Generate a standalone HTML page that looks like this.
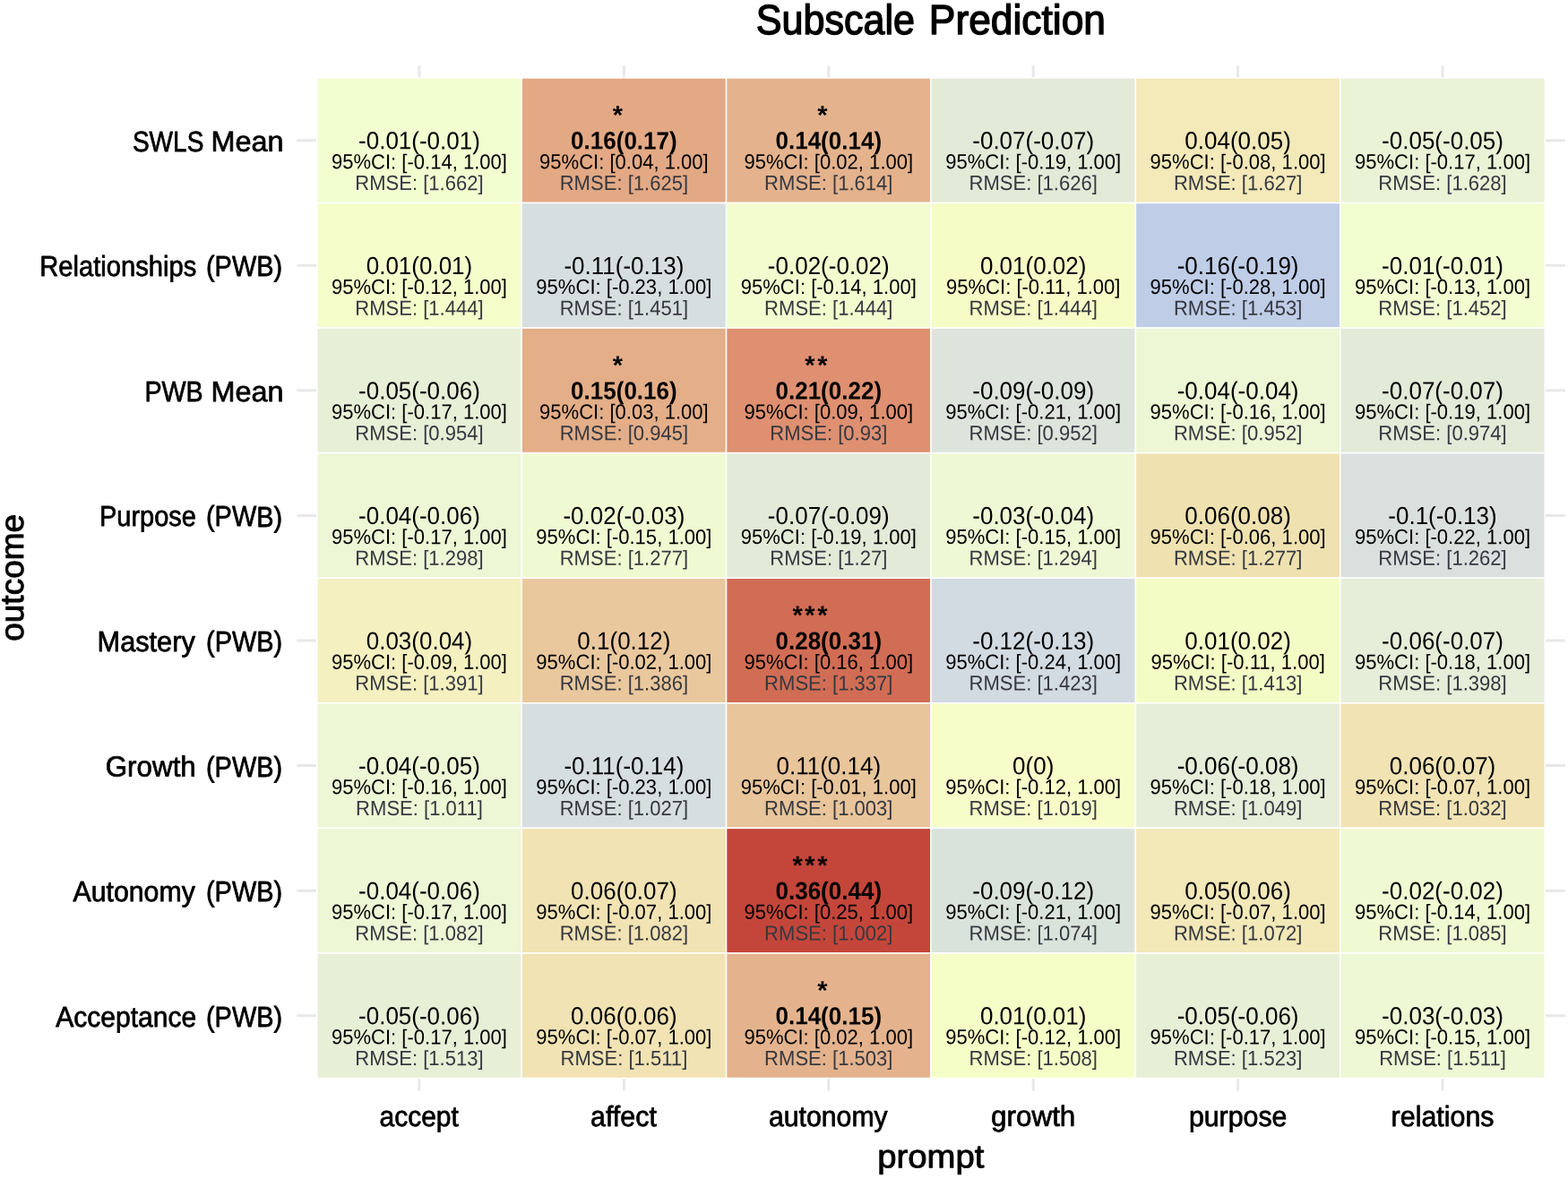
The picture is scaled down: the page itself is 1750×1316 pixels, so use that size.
<!DOCTYPE html>
<html lang="en"><head><meta charset="utf-8"><title>Subscale Prediction</title>
<style>
html,body{margin:0;padding:0;background:#fff;}
body{width:1750px;height:1316px;overflow:hidden;}
svg{display:block;}
text{font-family:"Liberation Sans",Arial,Helvetica,sans-serif;fill:#000;text-rendering:geometricPrecision;}
.m{font-size:26px;text-anchor:middle;}
.b{font-weight:bold;}
.c{font-size:22.05px;text-anchor:middle;}
.r{font-size:22.05px;text-anchor:middle;fill:#363840;}
.s{font-size:29px;text-anchor:end;font-weight:bold;letter-spacing:2.6px;}
.yl{font-size:32px;}
.xl{font-size:32px;}
.at{font-size:36.5px;}
.tt{font-size:46.5px;}
.yl,.xl,.at,.tt{stroke:#000;stroke-width:0.75px;stroke-linejoin:round;}
.at{stroke-width:0.9px;}
.tt{stroke-width:1.4px;}
</style></head><body>
<svg width="1750" height="1316" viewBox="0 0 1750 1316" role="img" aria-label="Subscale Prediction heatmap">
<rect x="0" y="0" width="1750" height="1316" fill="#ffffff"/>
<g stroke="#e8e8e8" stroke-width="3" fill="none">
<line x1="467.96" y1="73.20" x2="467.96" y2="1217.60"/>
<line x1="696.38" y1="73.20" x2="696.38" y2="1217.60"/>
<line x1="924.78" y1="73.20" x2="924.78" y2="1217.60"/>
<line x1="1153.19" y1="73.20" x2="1153.19" y2="1217.60"/>
<line x1="1381.61" y1="73.20" x2="1381.61" y2="1217.60"/>
<line x1="1610.01" y1="73.20" x2="1610.01" y2="1217.60"/>
<line x1="331.30" y1="156.72" x2="1747.00" y2="156.72"/>
<line x1="331.30" y1="296.28" x2="1747.00" y2="296.28"/>
<line x1="331.30" y1="435.85" x2="1747.00" y2="435.85"/>
<line x1="331.30" y1="575.42" x2="1747.00" y2="575.42"/>
<line x1="331.30" y1="714.99" x2="1747.00" y2="714.99"/>
<line x1="331.30" y1="854.57" x2="1747.00" y2="854.57"/>
<line x1="331.30" y1="994.13" x2="1747.00" y2="994.13"/>
<line x1="331.30" y1="1133.70" x2="1747.00" y2="1133.70"/>
</g>
<g stroke="#ffffff" stroke-width="1.5">
<rect x="353.76" y="86.93" width="228.41" height="139.57" fill="#f2fdd0"/>
<rect x="582.17" y="86.93" width="228.41" height="139.57" fill="#e2a984"/>
<rect x="810.58" y="86.93" width="228.41" height="139.57" fill="#e4b38d"/>
<rect x="1038.99" y="86.93" width="228.41" height="139.57" fill="#e3ead8"/>
<rect x="1267.40" y="86.93" width="228.41" height="139.57" fill="#f3e9b9"/>
<rect x="1495.81" y="86.93" width="228.41" height="139.57" fill="#eaf3d6"/>
<rect x="353.76" y="226.50" width="228.41" height="139.57" fill="#f5fdcb"/>
<rect x="582.17" y="226.50" width="228.41" height="139.57" fill="#d7dee0"/>
<rect x="810.58" y="226.50" width="228.41" height="139.57" fill="#f2fccf"/>
<rect x="1038.99" y="226.50" width="228.41" height="139.57" fill="#f5fcc5"/>
<rect x="1267.40" y="226.50" width="228.41" height="139.57" fill="#bfcde7"/>
<rect x="1495.81" y="226.50" width="228.41" height="139.57" fill="#f2fdd0"/>
<rect x="353.76" y="366.07" width="228.41" height="139.57" fill="#e8efd7"/>
<rect x="582.17" y="366.07" width="228.41" height="139.57" fill="#e3ae88"/>
<rect x="810.58" y="366.07" width="228.41" height="139.57" fill="#de9071"/>
<rect x="1038.99" y="366.07" width="228.41" height="139.57" fill="#dde4dc"/>
<rect x="1267.40" y="366.07" width="228.41" height="139.57" fill="#edf6d5"/>
<rect x="1495.81" y="366.07" width="228.41" height="139.57" fill="#e3ead8"/>
<rect x="353.76" y="505.64" width="228.41" height="139.57" fill="#edf6d5"/>
<rect x="582.17" y="505.64" width="228.41" height="139.57" fill="#f0fad2"/>
<rect x="810.58" y="505.64" width="228.41" height="139.57" fill="#e3ead8"/>
<rect x="1038.99" y="505.64" width="228.41" height="139.57" fill="#eef8d4"/>
<rect x="1267.40" y="505.64" width="228.41" height="139.57" fill="#efe2b0"/>
<rect x="1495.81" y="505.64" width="228.41" height="139.57" fill="#dae0de"/>
<rect x="353.76" y="645.21" width="228.41" height="139.57" fill="#f4f0c0"/>
<rect x="582.17" y="645.21" width="228.41" height="139.57" fill="#eac89e"/>
<rect x="810.58" y="645.21" width="228.41" height="139.57" fill="#d16d55"/>
<rect x="1038.99" y="645.21" width="228.41" height="139.57" fill="#d3dbe2"/>
<rect x="1267.40" y="645.21" width="228.41" height="139.57" fill="#f4fcc5"/>
<rect x="1495.81" y="645.21" width="228.41" height="139.57" fill="#e6edd8"/>
<rect x="353.76" y="784.78" width="228.41" height="139.57" fill="#edf6d5"/>
<rect x="582.17" y="784.78" width="228.41" height="139.57" fill="#d7dee0"/>
<rect x="810.58" y="784.78" width="228.41" height="139.57" fill="#e8c59b"/>
<rect x="1038.99" y="784.78" width="228.41" height="139.57" fill="#f6fdc9"/>
<rect x="1267.40" y="784.78" width="228.41" height="139.57" fill="#e6edd8"/>
<rect x="1495.81" y="784.78" width="228.41" height="139.57" fill="#f1e3b3"/>
<rect x="353.76" y="924.35" width="228.41" height="139.57" fill="#edf6d5"/>
<rect x="582.17" y="924.35" width="228.41" height="139.57" fill="#f1e3b3"/>
<rect x="810.58" y="924.35" width="228.41" height="139.57" fill="#c4463a"/>
<rect x="1038.99" y="924.35" width="228.41" height="139.57" fill="#dae3db"/>
<rect x="1267.40" y="924.35" width="228.41" height="139.57" fill="#f2e8b8"/>
<rect x="1495.81" y="924.35" width="228.41" height="139.57" fill="#f0fad2"/>
<rect x="353.76" y="1063.92" width="228.41" height="139.57" fill="#e8efd7"/>
<rect x="582.17" y="1063.92" width="228.41" height="139.57" fill="#f1e3b3"/>
<rect x="810.58" y="1063.92" width="228.41" height="139.57" fill="#e4b38d"/>
<rect x="1038.99" y="1063.92" width="228.41" height="139.57" fill="#f5fec7"/>
<rect x="1267.40" y="1063.92" width="228.41" height="139.57" fill="#e8efd7"/>
<rect x="1495.81" y="1063.92" width="228.41" height="139.57" fill="#eef8d4"/>
</g>
<g>
<text class="m" transform="matrix(1 0.0005 0 1.06 467.96 166.38)">-0.01(-0.01)</text>
<text class="c" transform="matrix(1 0.0005 0 1.055 467.96 188.41)">95%CI: [-0.14, 1.00]</text>
<text class="r" transform="matrix(1 0.0005 0 1.055 467.96 212.12)">RMSE: [1.662]</text>
<text class="s" transform="matrix(1 0.0005 0 1 697.67 138.31)">*</text>
<text class="m b" transform="matrix(1 0.0005 0 1.06 696.38 166.38)">0.16(0.17)</text>
<text class="c" transform="matrix(1 0.0005 0 1.055 696.38 188.41)">95%CI: [0.04, 1.00]</text>
<text class="r" transform="matrix(1 0.0005 0 1.055 696.38 212.12)">RMSE: [1.625]</text>
<text class="s" transform="matrix(1 0.0005 0 1 926.08 138.31)">*</text>
<text class="m b" transform="matrix(1 0.0005 0 1.06 924.78 166.38)">0.14(0.14)</text>
<text class="c" transform="matrix(1 0.0005 0 1.055 924.78 188.41)">95%CI: [0.02, 1.00]</text>
<text class="r" transform="matrix(1 0.0005 0 1.055 924.78 212.12)">RMSE: [1.614]</text>
<text class="m" transform="matrix(1 0.0005 0 1.06 1153.19 166.38)">-0.07(-0.07)</text>
<text class="c" transform="matrix(1 0.0005 0 1.055 1153.19 188.41)">95%CI: [-0.19, 1.00]</text>
<text class="r" transform="matrix(1 0.0005 0 1.055 1153.19 212.12)">RMSE: [1.626]</text>
<text class="m" transform="matrix(1 0.0005 0 1.06 1381.61 166.38)">0.04(0.05)</text>
<text class="c" transform="matrix(1 0.0005 0 1.055 1381.61 188.41)">95%CI: [-0.08, 1.00]</text>
<text class="r" transform="matrix(1 0.0005 0 1.055 1381.61 212.12)">RMSE: [1.627]</text>
<text class="m" transform="matrix(1 0.0005 0 1.06 1610.01 166.38)">-0.05(-0.05)</text>
<text class="c" transform="matrix(1 0.0005 0 1.055 1610.01 188.41)">95%CI: [-0.17, 1.00]</text>
<text class="r" transform="matrix(1 0.0005 0 1.055 1610.01 212.12)">RMSE: [1.628]</text>
</g>
<g>
<text class="m" transform="matrix(1 0.0005 0 1.06 467.96 305.95)">0.01(0.01)</text>
<text class="c" transform="matrix(1 0.0005 0 1.055 467.96 327.98)">95%CI: [-0.12, 1.00]</text>
<text class="r" transform="matrix(1 0.0005 0 1.055 467.96 351.68)">RMSE: [1.444]</text>
<text class="m" transform="matrix(1 0.0005 0 1.06 696.38 305.95)">-0.11(-0.13)</text>
<text class="c" transform="matrix(1 0.0005 0 1.055 696.38 327.98)">95%CI: [-0.23, 1.00]</text>
<text class="r" transform="matrix(1 0.0005 0 1.055 696.38 351.68)">RMSE: [1.451]</text>
<text class="m" transform="matrix(1 0.0005 0 1.06 924.78 305.95)">-0.02(-0.02)</text>
<text class="c" transform="matrix(1 0.0005 0 1.055 924.78 327.98)">95%CI: [-0.14, 1.00]</text>
<text class="r" transform="matrix(1 0.0005 0 1.055 924.78 351.68)">RMSE: [1.444]</text>
<text class="m" transform="matrix(1 0.0005 0 1.06 1153.19 305.95)">0.01(0.02)</text>
<text class="c" transform="matrix(1 0.0005 0 1.055 1153.19 327.98)">95%CI: [-0.11, 1.00]</text>
<text class="r" transform="matrix(1 0.0005 0 1.055 1153.19 351.68)">RMSE: [1.444]</text>
<text class="m" transform="matrix(1 0.0005 0 1.06 1381.61 305.95)">-0.16(-0.19)</text>
<text class="c" transform="matrix(1 0.0005 0 1.055 1381.61 327.98)">95%CI: [-0.28, 1.00]</text>
<text class="r" transform="matrix(1 0.0005 0 1.055 1381.61 351.68)">RMSE: [1.453]</text>
<text class="m" transform="matrix(1 0.0005 0 1.06 1610.01 305.95)">-0.01(-0.01)</text>
<text class="c" transform="matrix(1 0.0005 0 1.055 1610.01 327.98)">95%CI: [-0.13, 1.00]</text>
<text class="r" transform="matrix(1 0.0005 0 1.055 1610.01 351.68)">RMSE: [1.452]</text>
</g>
<g>
<text class="m" transform="matrix(1 0.0005 0 1.06 467.96 445.52)">-0.05(-0.06)</text>
<text class="c" transform="matrix(1 0.0005 0 1.055 467.96 467.55)">95%CI: [-0.17, 1.00]</text>
<text class="r" transform="matrix(1 0.0005 0 1.055 467.96 491.25)">RMSE: [0.954]</text>
<text class="s" transform="matrix(1 0.0005 0 1 697.67 417.45)">*</text>
<text class="m b" transform="matrix(1 0.0005 0 1.06 696.38 445.52)">0.15(0.16)</text>
<text class="c" transform="matrix(1 0.0005 0 1.055 696.38 467.55)">95%CI: [0.03, 1.00]</text>
<text class="r" transform="matrix(1 0.0005 0 1.055 696.38 491.25)">RMSE: [0.945]</text>
<text class="s" transform="matrix(1 0.0005 0 1 926.08 417.45)">**</text>
<text class="m b" transform="matrix(1 0.0005 0 1.06 924.78 445.52)">0.21(0.22)</text>
<text class="c" transform="matrix(1 0.0005 0 1.055 924.78 467.55)">95%CI: [0.09, 1.00]</text>
<text class="r" transform="matrix(1 0.0005 0 1.055 924.78 491.25)">RMSE: [0.93]</text>
<text class="m" transform="matrix(1 0.0005 0 1.06 1153.19 445.52)">-0.09(-0.09)</text>
<text class="c" transform="matrix(1 0.0005 0 1.055 1153.19 467.55)">95%CI: [-0.21, 1.00]</text>
<text class="r" transform="matrix(1 0.0005 0 1.055 1153.19 491.25)">RMSE: [0.952]</text>
<text class="m" transform="matrix(1 0.0005 0 1.06 1381.61 445.52)">-0.04(-0.04)</text>
<text class="c" transform="matrix(1 0.0005 0 1.055 1381.61 467.55)">95%CI: [-0.16, 1.00]</text>
<text class="r" transform="matrix(1 0.0005 0 1.055 1381.61 491.25)">RMSE: [0.952]</text>
<text class="m" transform="matrix(1 0.0005 0 1.06 1610.01 445.52)">-0.07(-0.07)</text>
<text class="c" transform="matrix(1 0.0005 0 1.055 1610.01 467.55)">95%CI: [-0.19, 1.00]</text>
<text class="r" transform="matrix(1 0.0005 0 1.055 1610.01 491.25)">RMSE: [0.974]</text>
</g>
<g>
<text class="m" transform="matrix(1 0.0005 0 1.06 467.96 585.09)">-0.04(-0.06)</text>
<text class="c" transform="matrix(1 0.0005 0 1.055 467.96 607.12)">95%CI: [-0.17, 1.00]</text>
<text class="r" transform="matrix(1 0.0005 0 1.055 467.96 630.82)">RMSE: [1.298]</text>
<text class="m" transform="matrix(1 0.0005 0 1.06 696.38 585.09)">-0.02(-0.03)</text>
<text class="c" transform="matrix(1 0.0005 0 1.055 696.38 607.12)">95%CI: [-0.15, 1.00]</text>
<text class="r" transform="matrix(1 0.0005 0 1.055 696.38 630.82)">RMSE: [1.277]</text>
<text class="m" transform="matrix(1 0.0005 0 1.06 924.78 585.09)">-0.07(-0.09)</text>
<text class="c" transform="matrix(1 0.0005 0 1.055 924.78 607.12)">95%CI: [-0.19, 1.00]</text>
<text class="r" transform="matrix(1 0.0005 0 1.055 924.78 630.82)">RMSE: [1.27]</text>
<text class="m" transform="matrix(1 0.0005 0 1.06 1153.19 585.09)">-0.03(-0.04)</text>
<text class="c" transform="matrix(1 0.0005 0 1.055 1153.19 607.12)">95%CI: [-0.15, 1.00]</text>
<text class="r" transform="matrix(1 0.0005 0 1.055 1153.19 630.82)">RMSE: [1.294]</text>
<text class="m" transform="matrix(1 0.0005 0 1.06 1381.61 585.09)">0.06(0.08)</text>
<text class="c" transform="matrix(1 0.0005 0 1.055 1381.61 607.12)">95%CI: [-0.06, 1.00]</text>
<text class="r" transform="matrix(1 0.0005 0 1.055 1381.61 630.82)">RMSE: [1.277]</text>
<text class="m" transform="matrix(1 0.0005 0 1.06 1610.01 585.09)">-0.1(-0.13)</text>
<text class="c" transform="matrix(1 0.0005 0 1.055 1610.01 607.12)">95%CI: [-0.22, 1.00]</text>
<text class="r" transform="matrix(1 0.0005 0 1.055 1610.01 630.82)">RMSE: [1.262]</text>
</g>
<g>
<text class="m" transform="matrix(1 0.0005 0 1.06 467.96 724.66)">0.03(0.04)</text>
<text class="c" transform="matrix(1 0.0005 0 1.055 467.96 746.69)">95%CI: [-0.09, 1.00]</text>
<text class="r" transform="matrix(1 0.0005 0 1.055 467.96 770.39)">RMSE: [1.391]</text>
<text class="m" transform="matrix(1 0.0005 0 1.06 696.38 724.66)">0.1(0.12)</text>
<text class="c" transform="matrix(1 0.0005 0 1.055 696.38 746.69)">95%CI: [-0.02, 1.00]</text>
<text class="r" transform="matrix(1 0.0005 0 1.055 696.38 770.39)">RMSE: [1.386]</text>
<text class="s" transform="matrix(1 0.0005 0 1 926.08 696.59)">***</text>
<text class="m b" transform="matrix(1 0.0005 0 1.06 924.78 724.66)">0.28(0.31)</text>
<text class="c" transform="matrix(1 0.0005 0 1.055 924.78 746.69)">95%CI: [0.16, 1.00]</text>
<text class="r" transform="matrix(1 0.0005 0 1.055 924.78 770.39)">RMSE: [1.337]</text>
<text class="m" transform="matrix(1 0.0005 0 1.06 1153.19 724.66)">-0.12(-0.13)</text>
<text class="c" transform="matrix(1 0.0005 0 1.055 1153.19 746.69)">95%CI: [-0.24, 1.00]</text>
<text class="r" transform="matrix(1 0.0005 0 1.055 1153.19 770.39)">RMSE: [1.423]</text>
<text class="m" transform="matrix(1 0.0005 0 1.06 1381.61 724.66)">0.01(0.02)</text>
<text class="c" transform="matrix(1 0.0005 0 1.055 1381.61 746.69)">95%CI: [-0.11, 1.00]</text>
<text class="r" transform="matrix(1 0.0005 0 1.055 1381.61 770.39)">RMSE: [1.413]</text>
<text class="m" transform="matrix(1 0.0005 0 1.06 1610.01 724.66)">-0.06(-0.07)</text>
<text class="c" transform="matrix(1 0.0005 0 1.055 1610.01 746.69)">95%CI: [-0.18, 1.00]</text>
<text class="r" transform="matrix(1 0.0005 0 1.055 1610.01 770.39)">RMSE: [1.398]</text>
</g>
<g>
<text class="m" transform="matrix(1 0.0005 0 1.06 467.96 864.24)">-0.04(-0.05)</text>
<text class="c" transform="matrix(1 0.0005 0 1.055 467.96 886.27)">95%CI: [-0.16, 1.00]</text>
<text class="r" transform="matrix(1 0.0005 0 1.055 467.96 909.97)">RMSE: [1.011]</text>
<text class="m" transform="matrix(1 0.0005 0 1.06 696.38 864.24)">-0.11(-0.14)</text>
<text class="c" transform="matrix(1 0.0005 0 1.055 696.38 886.27)">95%CI: [-0.23, 1.00]</text>
<text class="r" transform="matrix(1 0.0005 0 1.055 696.38 909.97)">RMSE: [1.027]</text>
<text class="m" transform="matrix(1 0.0005 0 1.06 924.78 864.24)">0.11(0.14)</text>
<text class="c" transform="matrix(1 0.0005 0 1.055 924.78 886.27)">95%CI: [-0.01, 1.00]</text>
<text class="r" transform="matrix(1 0.0005 0 1.055 924.78 909.97)">RMSE: [1.003]</text>
<text class="m" transform="matrix(1 0.0005 0 1.06 1153.19 864.24)">0(0)</text>
<text class="c" transform="matrix(1 0.0005 0 1.055 1153.19 886.27)">95%CI: [-0.12, 1.00]</text>
<text class="r" transform="matrix(1 0.0005 0 1.055 1153.19 909.97)">RMSE: [1.019]</text>
<text class="m" transform="matrix(1 0.0005 0 1.06 1381.61 864.24)">-0.06(-0.08)</text>
<text class="c" transform="matrix(1 0.0005 0 1.055 1381.61 886.27)">95%CI: [-0.18, 1.00]</text>
<text class="r" transform="matrix(1 0.0005 0 1.055 1381.61 909.97)">RMSE: [1.049]</text>
<text class="m" transform="matrix(1 0.0005 0 1.06 1610.01 864.24)">0.06(0.07)</text>
<text class="c" transform="matrix(1 0.0005 0 1.055 1610.01 886.27)">95%CI: [-0.07, 1.00]</text>
<text class="r" transform="matrix(1 0.0005 0 1.055 1610.01 909.97)">RMSE: [1.032]</text>
</g>
<g>
<text class="m" transform="matrix(1 0.0005 0 1.06 467.96 1003.80)">-0.04(-0.06)</text>
<text class="c" transform="matrix(1 0.0005 0 1.055 467.96 1025.84)">95%CI: [-0.17, 1.00]</text>
<text class="r" transform="matrix(1 0.0005 0 1.055 467.96 1049.54)">RMSE: [1.082]</text>
<text class="m" transform="matrix(1 0.0005 0 1.06 696.38 1003.80)">0.06(0.07)</text>
<text class="c" transform="matrix(1 0.0005 0 1.055 696.38 1025.84)">95%CI: [-0.07, 1.00]</text>
<text class="r" transform="matrix(1 0.0005 0 1.055 696.38 1049.54)">RMSE: [1.082]</text>
<text class="s" transform="matrix(1 0.0005 0 1 926.08 975.74)">***</text>
<text class="m b" transform="matrix(1 0.0005 0 1.06 924.78 1003.80)">0.36(0.44)</text>
<text class="c" transform="matrix(1 0.0005 0 1.055 924.78 1025.84)">95%CI: [0.25, 1.00]</text>
<text class="r" transform="matrix(1 0.0005 0 1.055 924.78 1049.54)">RMSE: [1.002]</text>
<text class="m" transform="matrix(1 0.0005 0 1.06 1153.19 1003.80)">-0.09(-0.12)</text>
<text class="c" transform="matrix(1 0.0005 0 1.055 1153.19 1025.84)">95%CI: [-0.21, 1.00]</text>
<text class="r" transform="matrix(1 0.0005 0 1.055 1153.19 1049.54)">RMSE: [1.074]</text>
<text class="m" transform="matrix(1 0.0005 0 1.06 1381.61 1003.80)">0.05(0.06)</text>
<text class="c" transform="matrix(1 0.0005 0 1.055 1381.61 1025.84)">95%CI: [-0.07, 1.00]</text>
<text class="r" transform="matrix(1 0.0005 0 1.055 1381.61 1049.54)">RMSE: [1.072]</text>
<text class="m" transform="matrix(1 0.0005 0 1.06 1610.01 1003.80)">-0.02(-0.02)</text>
<text class="c" transform="matrix(1 0.0005 0 1.055 1610.01 1025.84)">95%CI: [-0.14, 1.00]</text>
<text class="r" transform="matrix(1 0.0005 0 1.055 1610.01 1049.54)">RMSE: [1.085]</text>
</g>
<g>
<text class="m" transform="matrix(1 0.0005 0 1.06 467.96 1143.38)">-0.05(-0.06)</text>
<text class="c" transform="matrix(1 0.0005 0 1.055 467.96 1165.40)">95%CI: [-0.17, 1.00]</text>
<text class="r" transform="matrix(1 0.0005 0 1.055 467.96 1189.11)">RMSE: [1.513]</text>
<text class="m" transform="matrix(1 0.0005 0 1.06 696.38 1143.38)">0.06(0.06)</text>
<text class="c" transform="matrix(1 0.0005 0 1.055 696.38 1165.40)">95%CI: [-0.07, 1.00]</text>
<text class="r" transform="matrix(1 0.0005 0 1.055 696.38 1189.11)">RMSE: [1.511]</text>
<text class="s" transform="matrix(1 0.0005 0 1 926.08 1115.30)">*</text>
<text class="m b" transform="matrix(1 0.0005 0 1.06 924.78 1143.38)">0.14(0.15)</text>
<text class="c" transform="matrix(1 0.0005 0 1.055 924.78 1165.40)">95%CI: [0.02, 1.00]</text>
<text class="r" transform="matrix(1 0.0005 0 1.055 924.78 1189.11)">RMSE: [1.503]</text>
<text class="m" transform="matrix(1 0.0005 0 1.06 1153.19 1143.38)">0.01(0.01)</text>
<text class="c" transform="matrix(1 0.0005 0 1.055 1153.19 1165.40)">95%CI: [-0.12, 1.00]</text>
<text class="r" transform="matrix(1 0.0005 0 1.055 1153.19 1189.11)">RMSE: [1.508]</text>
<text class="m" transform="matrix(1 0.0005 0 1.06 1381.61 1143.38)">-0.05(-0.06)</text>
<text class="c" transform="matrix(1 0.0005 0 1.055 1381.61 1165.40)">95%CI: [-0.17, 1.00]</text>
<text class="r" transform="matrix(1 0.0005 0 1.055 1381.61 1189.11)">RMSE: [1.523]</text>
<text class="m" transform="matrix(1 0.0005 0 1.06 1610.01 1143.38)">-0.03(-0.03)</text>
<text class="c" transform="matrix(1 0.0005 0 1.055 1610.01 1165.40)">95%CI: [-0.15, 1.00]</text>
<text class="r" transform="matrix(1 0.0005 0 1.055 1610.01 1189.11)">RMSE: [1.511]</text>
</g>
<g>
<text class="yl" transform="matrix(1 0.0005 0 1 147.89 168.72)"><tspan x="0.00" textLength="79.51" lengthAdjust="spacingAndGlyphs">SWLS</tspan> <tspan x="87.52" textLength="81.03" lengthAdjust="spacingAndGlyphs">Mean</tspan></text>
<text class="yl" transform="matrix(1 0.0005 0 1 44.19 308.28)"><tspan x="0.00" textLength="175.11" lengthAdjust="spacingAndGlyphs">Relationships</tspan> <tspan x="185.81" textLength="85.11" lengthAdjust="spacingAndGlyphs">(PWB)</tspan></text>
<text class="yl" transform="matrix(1 0.0005 0 1 161.41 447.85)"><tspan x="0.00" textLength="65.24" lengthAdjust="spacingAndGlyphs">PWB</tspan> <tspan x="74.00" textLength="81.03" lengthAdjust="spacingAndGlyphs">Mean</tspan></text>
<text class="yl" transform="matrix(1 0.0005 0 1 110.99 587.42)"><tspan x="0.00" textLength="107.99" lengthAdjust="spacingAndGlyphs">Purpose</tspan> <tspan x="119.00" textLength="85.11" lengthAdjust="spacingAndGlyphs">(PWB)</tspan></text>
<text class="yl" transform="matrix(1 0.0005 0 1 108.56 726.99)"><tspan x="0.00" textLength="109.23" lengthAdjust="spacingAndGlyphs">Mastery</tspan> <tspan x="121.44" textLength="85.11" lengthAdjust="spacingAndGlyphs">(PWB)</tspan></text>
<text class="yl" transform="matrix(1 0.0005 0 1 117.73 866.57)"><tspan x="0.00" textLength="101.06" lengthAdjust="spacingAndGlyphs">Growth</tspan> <tspan x="112.27" textLength="85.11" lengthAdjust="spacingAndGlyphs">(PWB)</tspan></text>
<text class="yl" transform="matrix(1 0.0005 0 1 81.46 1006.13)"><tspan x="0.00" textLength="136.37" lengthAdjust="spacingAndGlyphs">Autonomy</tspan> <tspan x="148.54" textLength="85.11" lengthAdjust="spacingAndGlyphs">(PWB)</tspan></text>
<text class="yl" transform="matrix(1 0.0005 0 1 62.26 1145.70)"><tspan x="0.00" textLength="156.88" lengthAdjust="spacingAndGlyphs">Acceptance</tspan> <tspan x="167.74" textLength="85.11" lengthAdjust="spacingAndGlyphs">(PWB)</tspan></text>
</g>
<g>
<text class="xl" transform="matrix(1 0.0005 0 1 423.58 1256.80)"><tspan x="0.00" textLength="88.23" lengthAdjust="spacingAndGlyphs">accept</tspan></text>
<text class="xl" transform="matrix(1 0.0005 0 1 659.08 1256.80)"><tspan x="0.00" textLength="73.74" lengthAdjust="spacingAndGlyphs">affect</tspan></text>
<text class="xl" transform="matrix(1 0.0005 0 1 857.98 1256.80)"><tspan x="0.00" textLength="132.67" lengthAdjust="spacingAndGlyphs">autonomy</tspan></text>
<text class="xl" transform="matrix(1 0.0005 0 1 1106.00 1256.80)"><tspan x="0.00" textLength="94.35" lengthAdjust="spacingAndGlyphs">growth</tspan></text>
<text class="xl" transform="matrix(1 0.0005 0 1 1326.88 1256.80)"><tspan x="0.00" textLength="109.50" lengthAdjust="spacingAndGlyphs">purpose</tspan></text>
<text class="xl" transform="matrix(1 0.0005 0 1 1552.62 1256.80)"><tspan x="0.00" textLength="114.85" lengthAdjust="spacingAndGlyphs">relations</tspan></text>
</g>
<text class="at" transform="matrix(1 0.0005 0 1 979.17 1303.20)"><tspan x="0.00" textLength="119.37" lengthAdjust="spacingAndGlyphs">prompt</tspan></text>
<text class="at" transform="translate(25.90 715.79) rotate(-90)" x="0" y="0" textLength="141.94" lengthAdjust="spacingAndGlyphs">outcome</text>
<text class="tt" transform="matrix(1 0.0005 0 1 843.71 37.50)"><tspan x="0.00" textLength="177.30" lengthAdjust="spacingAndGlyphs">Subscale</tspan> <tspan x="193.09" textLength="197.26" lengthAdjust="spacingAndGlyphs">Prediction</tspan></text>
</svg>
</body></html>
